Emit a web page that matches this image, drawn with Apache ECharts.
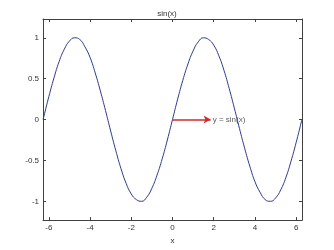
<!DOCTYPE html>
<html>
<head>
<meta charset="utf-8">
<script src="https://cdn.jsdelivr.net/npm/echarts@6/dist/echarts.min.js"></script>
<style>html,body{margin:0;padding:0;background:#fff}#c{width:334px;height:250px}</style>
</head>
<body>
<div id="c"></div>
<script>
var titleText = 'sin(x)';
var xName = 'x';
var xs = [-6.28,-6.25,-6.0,-5.75,-5.5,-5.25,-5.0,-4.75,-4.5,-4.25,-4.0,-3.75,-3.5,-3.25,-3.0,-2.75,-2.5,-2.25,-2.0,-1.75,-1.5,-1.25,-1.0,-0.75,-0.5,-0.25,
          0,0.25,0.5,0.75,1.0,1.25,1.5,1.75,2.0,2.25,2.5,2.75,3.0,3.25,3.5,3.75,4.0,4.25,4.5,4.75,5.0,5.25,5.5,5.75,6.0,6.25,6.28];
var ys = [0.00,0.03,0.28,0.51,0.71,0.86,0.96,1.00,0.98,0.89,0.76,0.57,0.35,0.11,-0.14,-0.38,-0.60,-0.78,-0.91,-0.98,-1.00,-0.95,-0.84,-0.68,-0.48,-0.25,
          0.00,0.25,0.48,0.68,0.84,0.95,1.00,0.98,0.91,0.78,0.60,0.38,0.14,-0.11,-0.35,-0.57,-0.76,-0.89,-0.98,-1.00,-0.96,-0.86,-0.71,-0.51,-0.28,-0.03,0.00];
var xTicks = [-6,-4,-2,0,2,4,6];
var yTicks = [-1,-0.5,0,0.5,1];
var arrowFrom = [0,0];
var arrowTo = [1.85,0];
var annotText = 'y = sin(x)';
var annotPos = [1.95,0];

var curve = xs.map(function(x,i){return [x, ys[i]];});
var xMin = -6.2832, xMax = 6.2832, yMin = -1.23, yMax = 1.23;
var frame = '#404040';
var font = 'Liberation Sans, Arial, sans-serif';

function xAx(pos, labels) {
  return {
    type:'value', position:pos, min:xMin, max:xMax,
    axisLine:{show:true, onZero:false, lineStyle:{color:frame, width:1}},
    axisTick:{show:true, inside:true, length:3, customValues:xTicks, lineStyle:{color:frame}},
    axisLabel:{show:labels, customValues:xTicks, fontSize:8, color:'#333', margin:4, fontFamily:font},
    splitLine:{show:false},
    name: labels ? xName : '', nameLocation:'middle', nameGap:15,
    nameTextStyle:{fontSize:8, color:'#333', fontFamily:font}
  };
}
function yAx(pos, labels) {
  return {
    type:'value', position:pos, min:yMin, max:yMax,
    axisLine:{show:true, onZero:false, lineStyle:{color:frame, width:1}},
    axisTick:{show:true, inside:true, length:3, customValues:yTicks, lineStyle:{color:frame}},
    axisLabel:{show:labels, customValues:yTicks, fontSize:8, color:'#333', margin:4, fontFamily:font},
    splitLine:{show:false}
  };
}

var chart = echarts.init(document.getElementById('c'));
chart.setOption({
  animation:false,
  backgroundColor:'#fff',
  title:{text:titleText, left:'center', top:5, textStyle:{fontSize:8, fontWeight:'normal', color:'#333', fontFamily:font}},
  grid:{left:43, right:32, top:19, bottom:28},
  xAxis:[xAx('bottom', true), xAx('top', false)],
  yAxis:[yAx('left', true), yAx('right', false)],
  series:[
    {type:'line', data:curve, smooth:true, showSymbol:false, symbol:'none',
     lineStyle:{color:'#2e3a8c', width:1}, z:3},
    {type:'line', data:[arrowFrom, arrowTo], showSymbol:false, symbol:'none', lineStyle:{width:0, opacity:0},
     markLine:{silent:true, symbol:['none','arrow'], symbolSize:[6,7], label:{show:false},
       lineStyle:{color:'#d42a2a', width:1.5, type:'solid'},
       data:[[{coord:arrowFrom},{coord:arrowTo}]]}, z:4},
    {type:'scatter', data:[annotPos], symbolSize:0,
     label:{show:true, position:'right', distance:0, formatter:annotText, fontSize:8, color:'#333', fontFamily:font}, z:5}
  ]
});
</script>
</body>
</html>
